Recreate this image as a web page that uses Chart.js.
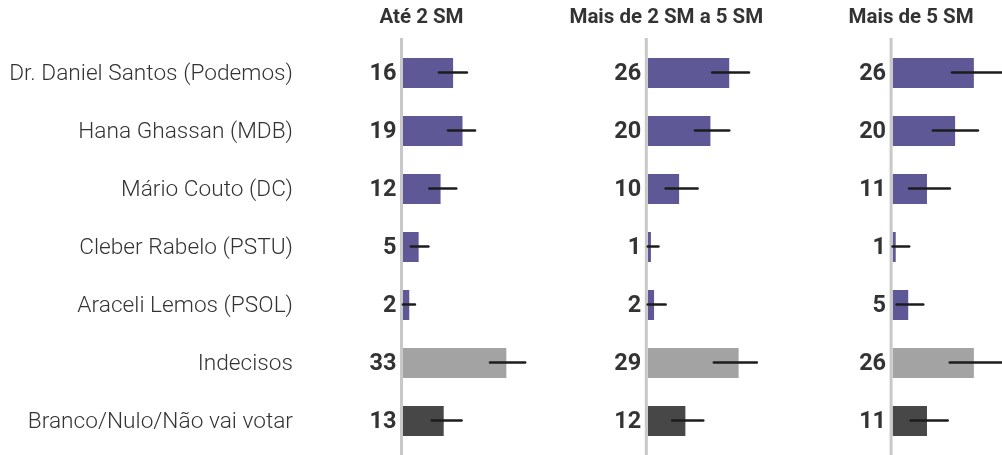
<!DOCTYPE html>
<html><head><meta charset="utf-8">
<script src="https://cdn.jsdelivr.net/npm/chart.js@4"></script>
<style>
html,body{margin:0;padding:0;background:#fff;width:1002px;height:455px;overflow:hidden}
canvas{position:absolute;top:0}
</style></head><body>
<canvas id="c1" width="560" height="455" style="left:0"></canvas>
<canvas id="c2" width="240" height="455" style="left:560px"></canvas>
<canvas id="c3" width="202" height="455" style="left:800px"></canvas>
<script>
const categories = ['Dr. Daniel Santos (Podemos)','Hana Ghassan (MDB)','Mário Couto (DC)','Cleber Rabelo (PSTU)','Araceli Lemos (PSOL)','Indecisos','Branco/Nulo/Não vai votar'];
const panelTitles = ['Até 2 SM','Mais de 2 SM a 5 SM','Mais de 5 SM'];

const valuesAte2 = [16,19,12,5,2,33,13];
const lowAte2    = [11.5,14.4,8.4,2.5,0,27.8,9.2];
const highAte2   = [20.4,23.0,17.0,8.1,3.8,39.0,18.7];

const values2a5 = [26,20,10,1,2,29,12];
const low2a5    = [20.6,15.1,5.7,0,0,21.1,7.8];
const high2a5   = [32.3,26.0,15.9,3.4,5.7,34.8,17.7];

const valuesMais5 = [26,20,11,1,5,26,11];
const lowMais5    = [19.0,12.9,5.3,0,1.3,18.3,5.8];
const highMais5   = [36,27.3,18.3,5.3,9.8,36,17.6];

const xMax = 35;
const PURPLE = '#5e5896', LIGHT = '#a3a3a3', DARK = '#474747';
const barColors = [PURPLE,PURPLE,PURPLE,PURPLE,PURPLE,LIGHT,DARK];
const FONT = 'Roboto, "Noto Sans", sans-serif';

const panelPlugin = {
  id: 'panel',
  beforeDatasetsDraw(chart) {
    const ctx = chart.ctx;
    const x0 = chart.scales.x.getPixelForValue(0);
    ctx.save();
    ctx.strokeStyle = '#c8c8c8';
    ctx.lineWidth = 3;
    ctx.beginPath();
    ctx.moveTo(x0 - 1.5, 38);
    ctx.lineTo(x0 - 1.5, 455);
    ctx.stroke();
    ctx.restore();
  },
  afterDatasetsDraw(chart, args, opts) {
    const ctx = chart.ctx;
    const xs = chart.scales.x, ys = chart.scales.y;
    const x0 = xs.getPixelForValue(0);
    ctx.save();
    // error bars
    ctx.strokeStyle = '#1c1c1c';
    ctx.lineWidth = 2.6;
    ctx.lineCap = 'round';
    opts.low.forEach((lo, i) => {
      const y = ys.getPixelForValue(i) - 0.5;
      ctx.beginPath();
      ctx.moveTo(xs.getPixelForValue(lo), y);
      ctx.lineTo(xs.getPixelForValue(opts.high[i]), y);
      ctx.stroke();
    });
    // value labels
    ctx.fillStyle = '#333';
    ctx.font = 'bold 23.5px ' + FONT;
    ctx.textAlign = 'right';
    ctx.textBaseline = 'middle';
    chart.data.datasets[0].data.forEach((v, i) => {
      ctx.fillText(String(v), x0 - 6.5, ys.getPixelForValue(i) + 1);
    });
    // title
    ctx.font = 'bold 20.5px ' + FONT;
    ctx.textAlign = 'center';
    ctx.fillText(opts.title, x0 + 18.5, 18);
    ctx.restore();
  }
};

function makeChart(id, values, low, high, title, padLeft, padRight, showNames) {
  return new Chart(document.getElementById(id), {
    type: 'bar',
    data: {
      labels: categories,
      datasets: [{
        data: values,
        backgroundColor: barColors,
        borderWidth: 0,
        barPercentage: 1,
        categoryPercentage: 0.52
      }]
    },
    options: {
      indexAxis: 'y',
      responsive: false,
      animation: false,
      events: [],
      layout: { padding: { top: 44, bottom: 5, left: padLeft, right: padRight } },
      plugins: {
        legend: { display: false },
        tooltip: { enabled: false },
        title: { display: false },
        panel: { low: low, high: high, title: title }
      },
      scales: {
        x: { type: 'linear', min: 0, max: xMax, display: false },
        y: {
          display: showNames,
          grid: { display: false, drawTicks: false },
          border: { display: false },
          ticks: {
            color: '#333',
            padding: 110,
            font: { family: '"Roboto Light", Roboto, "Noto Sans", sans-serif', size: 22.7, weight: '300' }
          },
          afterFit: (s) => {
            if (showNames) { s.width = 403; }
            s.paddingTop = 0; s.paddingBottom = 0;
          }
        }
      }
    },
    plugins: [panelPlugin]
  });
}

makeChart('c1', valuesAte2, lowAte2, highAte2, panelTitles[0], 0, 47.4, true);
makeChart('c2', values2a5, low2a5, high2a5, panelTitles[1], 87.8, 42.6, false);
makeChart('c3', valuesMais5, lowMais5, highMais5, panelTitles[2], 92.6, 0, false);
</script>
</body></html>
